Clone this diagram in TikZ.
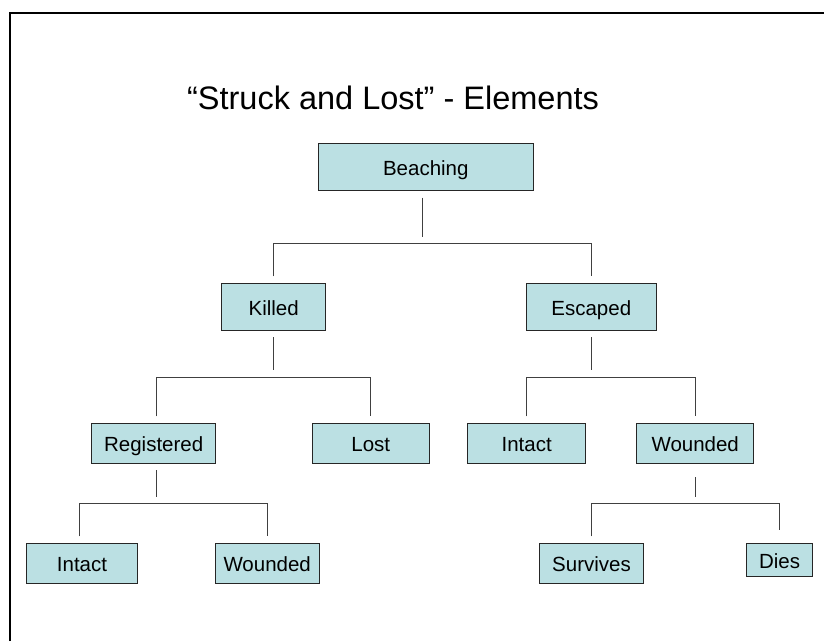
\documentclass[tikz,border=0pt]{standalone}
\usepackage{fontspec}
\setmainfont{Liberation Sans}
\usetikzlibrary{positioning}
\definecolor{boxfill}{HTML}{BBE0E3}

\begin{document}
\begin{tikzpicture}[
    x=1pt, y=1pt,
    box_style/.style={draw=black!85, line width=0.8pt, fill=boxfill, inner sep=0pt,
        minimum height=40pt, text height=16pt, text depth=0pt,
        font=\fontsize{20.5}{24}\selectfont},
    link_style/.style={line width=0.8pt, black!75},
    title_style/.style={font=\fontsize{32.5}{38}\selectfont}
]
    \useasboundingbox (0,0) rectangle (824,-641);

    % Frame
    \draw[line width=2pt] (10,-641) -- (10,-13) -- (824,-13);

    % Title
    \node[title_style] (title) at (393,-98) {“Struck and Lost” - Elements};

    % Boxes
    \node[box_style, minimum width=215pt, minimum height=47.4pt] (beaching) at (425.8,-167) {Beaching};
    \node[box_style, minimum width=104pt, minimum height=47.4pt] (killed) at (273.7,-307) {Killed};
    \node[box_style, minimum width=130.7pt, minimum height=47.4pt] (escaped) at (591.3,-307) {Escaped};
    \node[box_style, minimum width=124pt] (registered) at (153.7,-443.3) {Registered};
    \node[box_style, minimum width=117pt] (lost) at (370.8,-443.3) {Lost};
    \node[box_style, minimum width=118pt] (esc_intact) at (526.7,-443.3) {Intact};
    \node[box_style, minimum width=117pt] (esc_wounded) at (695.2,-443.3) {Wounded};
    \node[box_style, minimum width=110.6pt] (reg_intact) at (82,-563.3) {Intact};
    \node[box_style, minimum width=104.3pt] (reg_wounded) at (267.2,-563.3) {Wounded};
    \node[box_style, minimum width=104.4pt] (survives) at (591.5,-563.3) {Survives};
    \node[box_style, minimum width=65.6pt, minimum height=33.4pt] (dies) at (779.5,-560) {Dies};

    % Links
    \draw[link_style] ([xshift=-3pt, yshift=-6.6pt]beaching.south) -- ++(0,-39.4);
    \draw[link_style] ([yshift=6.6pt]killed.north) |- ([yshift=39.3pt]escaped.north) -- ([yshift=6.6pt]escaped.north);

    \draw[link_style] ([yshift=-6pt]killed.south) -- ++(0,-33.3);
    \draw[link_style] ([xshift=3pt, yshift=6.6pt]registered.north) |- ([yshift=46pt]lost.north) -- ([yshift=6.6pt]lost.north);

    \draw[link_style] ([yshift=-6pt]escaped.south) -- ++(0,-33.3);
    \draw[link_style] ([yshift=6.6pt]esc_intact.north) |- ([yshift=46pt]esc_wounded.north) -- ([yshift=6.6pt]esc_wounded.north);

    \draw[link_style] ([xshift=3pt, yshift=-6.7pt]registered.south) -- ++(0,-26.7);
    \draw[link_style] ([xshift=-3pt, yshift=6.6pt]reg_intact.north) |- ([yshift=40pt]reg_wounded.north) -- ([yshift=6.6pt]reg_wounded.north);

    \draw[link_style] ([yshift=-13.4pt]esc_wounded.south) -- ++(0,-20);
    \draw[link_style] ([yshift=6.6pt]survives.north) |- ([yshift=40pt]dies.north) -- ([yshift=13.3pt]dies.north);

\end{tikzpicture}
\end{document}
